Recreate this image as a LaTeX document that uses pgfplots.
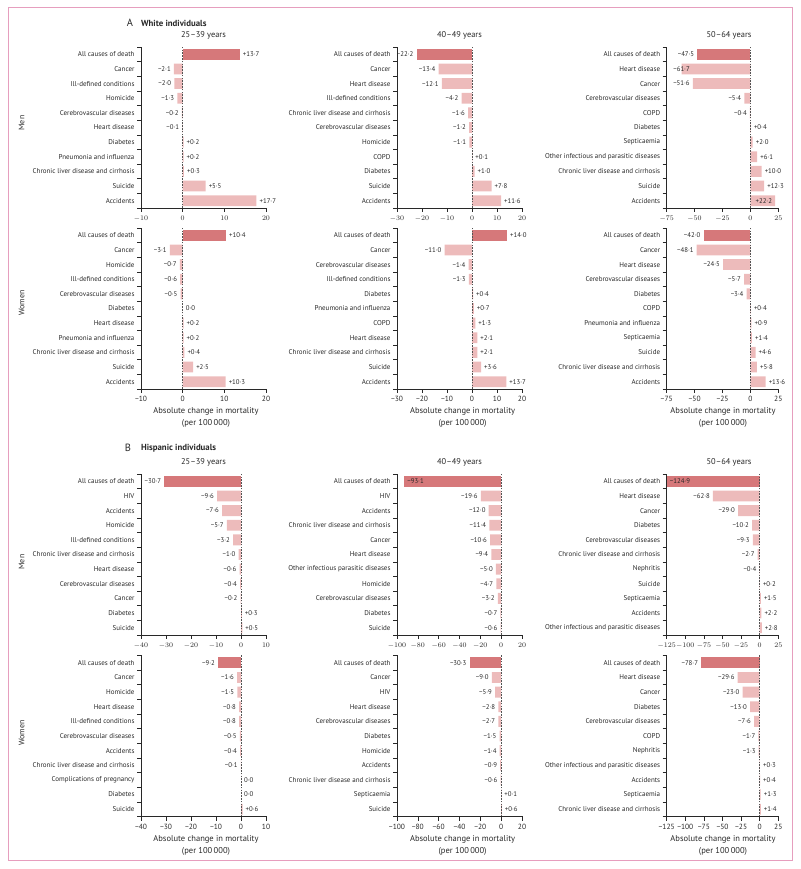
\documentclass[border=0pt]{standalone}
\usepackage{fontspec}
\setmainfont{PT Sans}
\usepackage{pgfplots}
\usepackage{pgfplotstable}
\pgfplotsset{compat=1.18}
\definecolor{dk}{RGB}{214,120,122}
\definecolor{lt}{RGB}{237,187,187}
\definecolor{frm}{RGB}{230,158,190}
\definecolor{txt}{RGB}{40,40,40}

% ---------- data (y: 10 = top row) ----------
\pgfplotstableread{
y x lab
10 13.7 +13·7
9 -2.1 −2·1
8 -2.0 −2·0
7 -1.3 −1·3
6 -0.2 −0·2
5 -0.1 −0·1
4 0.2 +0·2
3 0.2 +0·2
2 0.3 +0·3
1 5.5 +5·5
0 17.7 +17·7
}\tAMa
\pgfplotstableread{
y x lab
10 -22.2 −22·2
9 -13.4 −13·4
8 -12.1 −12·1
7 -4.2 −4·2
6 -1.6 −1·6
5 -1.2 −1·2
4 -1.1 −1·1
3 0.1 +0·1
2 1.0 +1·0
1 7.8 +7·8
0 11.6 +11·6
}\tAMb
\pgfplotstableread{
y x lab
10 -47.5 −47·5
9 -61.7 {}
8 -51.6 −51·6
7 -5.4 −5·4
6 -0.4 −0·4
5 0.4 +0·4
4 2.0 +2·0
3 6.1 +6·1
2 10.0 +10·0
1 12.3 +12·3
0 22.2 {}
}\tAMc
\pgfplotstableread{
y x lab
10 10.4 +10·4
9 -3.1 −3·1
8 -0.7 −0·7
7 -0.6 −0·6
6 -0.5 −0·5
5 0.0 0·0
4 0.2 +0·2
3 0.2 +0·2
2 0.4 +0·4
1 2.5 +2·5
0 10.3 +10·3
}\tAWa
\pgfplotstableread{
y x lab
10 14.0 +14·0
9 -11.0 −11·0
8 -1.4 −1·4
7 -1.3 −1·3
6 0.4 +0·4
5 0.7 +0·7
4 1.3 +1·3
3 2.1 +2·1
2 2.1 +2·1
1 3.6 +3·6
0 13.7 +13·7
}\tAWb
\pgfplotstableread{
y x lab
10 -42.0 −42·0
9 -48.1 −48·1
8 -24.5 −24·5
7 -5.7 −5·7
6 -3.4 −3·4
5 0.4 +0·4
4 0.9 +0·9
3 1.4 +1·4
2 4.6 +4·6
1 5.8 +5·8
0 13.6 +13·6
}\tAWc
\pgfplotstableread{
y x lab
10 -30.7 −30·7
9 -9.6 −9·6
8 -7.6 −7·6
7 -5.7 −5·7
6 -3.2 −3·2
5 -1.0 −1·0
4 -0.6 −0·6
3 -0.4 −0·4
2 -0.2 −0·2
1 0.3 +0·3
0 0.5 +0·5
}\tBMa
\pgfplotstableread{
y x lab
10 -93.1 {}
9 -19.6 −19·6
8 -12.0 −12·0
7 -11.4 −11·4
6 -10.6 −10·6
5 -9.4 −9·4
4 -5.0 −5·0
3 -4.7 −4·7
2 -3.2 −3·2
1 -0.7 −0·7
0 -0.6 −0·6
}\tBMb
\pgfplotstableread{
y x lab
10 -124.9 {}
9 -62.8 −62·8
8 -29.0 −29·0
7 -10.2 −10·2
6 -9.3 −9·3
5 -2.7 −2·7
4 -0.4 −0·4
3 0.2 +0·2
2 1.5 +1·5
1 2.2 +2·2
0 2.8 +2·8
}\tBMc
\pgfplotstableread{
y x lab
10 -9.2 −9·2
9 -1.6 −1·6
8 -1.5 −1·5
7 -0.8 −0·8
6 -0.8 −0·8
5 -0.5 −0·5
4 -0.4 −0·4
3 -0.1 −0·1
2 0.0 0·0
1 0.0 0·0
0 0.6 +0·6
}\tBWa
\pgfplotstableread{
y x lab
10 -30.3 −30·3
9 -9.0 −9·0
8 -5.9 −5·9
7 -2.8 −2·8
6 -2.7 −2·7
5 -1.5 −1·5
4 -1.4 −1·4
3 -0.9 −0·9
2 -0.6 −0·6
1 0.1 +0·1
0 0.6 +0·6
}\tBWb
\pgfplotstableread{
y x lab
10 -78.7 −78·7
9 -29.6 −29·6
8 -23.0 −23·0
7 -13.0 −13·0
6 -7.6 −7·6
5 -1.7 −1·7
4 -1.3 −1·3
3 0.3 +0·3
2 0.4 +0·4
1 1.3 +1·3
0 1.4 +1·4
}\tBWc

\pgfplotsset{
  panel/.style={
    scale only axis, height=161pt, anchor=south west,
    ymin=-0.5, ymax=10.5,
    axis x line*=bottom, axis y line*=left,
    axis line style={line width=0.6pt, draw=txt},
    tick align=outside, major tick length=4pt,
    tick style={line width=0.6pt, draw=txt},
    ytick={-0.5,0.5,...,10.5}, yticklabels={},
    extra y ticks={10,9,...,0},
    extra y tick style={major tick length=0pt, tick style={draw=none}},
    yticklabel style={font=\fontsize{7}{8}\selectfont, text=txt, xshift=-3pt},
    xticklabel style={font=\fontsize{7.5}{8}\selectfont, text=txt},
    clip=false,
  },
  barbase/.style={xbar, bar width=0.74, bar shift=0pt, draw=none},
  ltbar/.style={barbase, fill=lt, restrict y to domain=-0.5:9.5},
  dkbar/.style={barbase, fill=dk, restrict y to domain=9.5:10.5},
  lbl/.style={draw=none, mark=none, point meta=explicit symbolic,
    nodes near coords,
    every node near coord/.append style={font=\fontsize{6.8}{7}\selectfont,
      inner xsep=3pt, inner ysep=0pt, text=txt, anchor=#1}},
}
\newcommand\panel[7]{%
  \begin{axis}[panel, at={(#1,#2)}, width=#3, #5, extra y tick labels={#6}]
    \addplot[ltbar] table[x=x,y=y]{#4};
    \addplot[dkbar] table[x=x,y=y]{#4};
    \addplot[lbl=east, restrict x to domain=-1000:-0.01] table[x=x,y=y,meta=lab]{#4};
    \addplot[lbl=west, restrict x to domain=0:1000] table[x=x,y=y,meta=lab]{#4};
    #7
    \draw[dash pattern=on 1.6pt off 1.2pt, line width=0.5pt, txt!80]
      (axis cs:0,-0.5) -- (axis cs:0,10.5);
  \end{axis}}

\begin{document}
\begin{tikzpicture}
\useasboundingbox (0,0) rectangle (800pt,869pt);
\draw[frm, line width=1pt] (8pt,8pt) rectangle (792pt,861pt);

% ---------------- A: White individuals ----------------
\node[font=\fontsize{10.5}{12}\selectfont, text=txt] at (130pt,846pt) {A};
\node[font=\bfseries\fontsize{8.8}{10}\selectfont, text=txt, anchor=west] at (137.5pt,846pt) {White individuals};
\node[font=\fontsize{8.4}{10}\selectfont, text=txt] at (203.5pt,834pt) {25–39 years};
\node[font=\fontsize{8.4}{10}\selectfont, text=txt] at (459.5pt,834pt) {40–49 years};
\node[font=\fontsize{8.4}{10}\selectfont, text=txt] at (729pt,834pt) {50–64 years};
\node[font=\fontsize{8}{10}\selectfont, text=txt, rotate=90] at (21.7pt,746pt) {Men};
\node[font=\fontsize{8}{10}\selectfont, text=txt, rotate=90] at (21.7pt,566pt) {Women};

\panel{141pt}{661pt}{125pt}{\tAMa}{xmin=-10,xmax=20,xtick={-10,0,10,20},xticklabel={}}
 {All causes of death,Cancer,Ill-defined conditions,Homicide,Cerebrovascular diseases,Heart disease,Diabetes,Pneumonia and influenza,Chronic liver disease and cirrhosis,Suicide,Accidents}{}
\panel{397pt}{661pt}{125pt}{\tAMb}{xmin=-30,xmax=20,xtick={-30,-20,...,20},xticklabel={}}
 {All causes of death,Cancer,Heart disease,Ill-defined conditions,Chronic liver disease and cirrhosis,Cerebrovascular diseases,Homicide,COPD,Diabetes,Suicide,Accidents}{}
\panel{666.7pt}{661pt}{111.6pt}{\tAMc}{xmin=-75,xmax=25,xtick={-75,-50,...,25},xticklabel={}}
 {All causes of death,Heart disease,Cancer,Cerebrovascular diseases,COPD,Diabetes,Septicaemia,Other infectious and parasitic diseases,Chronic liver disease and cirrhosis,Suicide,Accidents}
 {\addplot[lbl=center] coordinates {(-61.7,9) [−61·7]};
  \addplot[lbl=east] coordinates {(22.2,0) [+22·2]};}

\panel{141pt}{480pt}{125pt}{\tAWa}{xmin=-10,xmax=20,xtick={-10,0,10,20},xticklabels={−10,0,10,20}}
 {All causes of death,Cancer,Homicide,Ill-defined conditions,Cerebrovascular diseases,Diabetes,Heart disease,Pneumonia and influenza,Chronic liver disease and cirrhosis,Suicide,Accidents}{}
\panel{397pt}{480pt}{125pt}{\tAWb}{xmin=-30,xmax=20,xtick={-30,-20,...,20},xticklabels={−30,−20,−10,0,10,20}}
 {All causes of death,Cancer,Cerebrovascular diseases,Ill-defined conditions,Diabetes,Pneumonia and influenza,COPD,Heart disease,Chronic liver disease and cirrhosis,Suicide,Accidents}{}
\panel{666.7pt}{480pt}{111.6pt}{\tAWc}{xmin=-75,xmax=25,xtick={-75,-50,...,25},xticklabels={−75,−50,−25,0,25}}
 {All causes of death,Cancer,Heart disease,Cerebrovascular diseases,Diabetes,COPD,Pneumonia and influenza,Septicaemia,Suicide,Chronic liver disease and cirrhosis,Accidents}{}

\foreach \cx in {206,462.6,723}{
  \node[font=\fontsize{8.5}{12}\selectfont, text=txt, align=center] at (\cx pt,451.5pt) {Absolute change in mortality\\(per 100\,000)};
}

% ---------------- B: Hispanic individuals ----------------
\node[font=\fontsize{10.5}{12}\selectfont, text=txt] at (128pt,421pt) {B};
\node[font=\bfseries\fontsize{8.8}{10}\selectfont, text=txt, anchor=west] at (137.5pt,421pt) {Hispanic individuals};
\node[font=\fontsize{8.4}{10}\selectfont, text=txt] at (203.5pt,407pt) {25–39 years};
\node[font=\fontsize{8.4}{10}\selectfont, text=txt] at (459.5pt,407pt) {40–49 years};
\node[font=\fontsize{8.4}{10}\selectfont, text=txt] at (729pt,407pt) {50–64 years};
\node[font=\fontsize{8}{10}\selectfont, text=txt, rotate=90] at (21.7pt,307pt) {Men};
\node[font=\fontsize{8}{10}\selectfont, text=txt, rotate=90] at (21.7pt,136pt) {Women};

\panel{141pt}{234pt}{125pt}{\tBMa}{xmin=-40,xmax=10,xtick={-40,-30,...,10},xticklabel={}}
 {All causes of death,HIV,Accidents,Homicide,Ill-defined conditions,Chronic liver disease and cirrhosis,Heart disease,Cerebrovascular diseases,Cancer,Diabetes,Suicide}{}
\panel{397pt}{234pt}{125pt}{\tBMb}{xmin=-100,xmax=20,xtick={-100,-80,...,20},xticklabel={}}
 {All causes of death,HIV,Accidents,Chronic liver disease and cirrhosis,Cancer,Heart disease,Other infectious parasitic diseases,Homicide,Cerebrovascular diseases,Diabetes,Suicide}
 {\addplot[lbl=west] coordinates {(-93.1,10) [−93·1]};}
\panel{666.7pt}{234pt}{111.6pt}{\tBMc}{xmin=-125,xmax=25,xtick={-125,-100,...,25},xticklabel={}}
 {All causes of death,Heart disease,Cancer,Diabetes,Cerebrovascular diseases,Chronic liver disease and cirrhosis,Nephritis,Suicide,Septicaemia,Accidents,Other infectious and parasitic diseases}
 {\addplot[lbl=west] coordinates {(-124.9,10) [−124·9]};}

\panel{141pt}{52.5pt}{125pt}{\tBWa}{xmin=-40,xmax=10,xtick={-40,-30,...,10},xticklabels={−40,−30,−20,−10,0,10}}
 {All causes of death,Cancer,Homicide,Heart disease,Ill-defined conditions,Cerebrovascular diseases,Accidents,Chronic liver disease and cirrhosis,Complications of pregnancy,Diabetes,Suicide}{}
\panel{397pt}{52.5pt}{125pt}{\tBWb}{xmin=-100,xmax=20,xtick={-100,-80,...,20},xticklabels={−100,−80,−60,−40,−20,0,20}}
 {All causes of death,Cancer,HIV,Heart disease,Cerebrovascular diseases,Diabetes,Homicide,Accidents,Chronic liver disease and cirrhosis,Septicaemia,Suicide}{}
\panel{666.7pt}{52.5pt}{111.6pt}{\tBWc}{xmin=-125,xmax=25,xtick={-125,-100,...,25},xticklabels={−125,−100,−75,−50,−25,0,25}}
 {All causes of death,Heart disease,Cancer,Diabetes,Cerebrovascular diseases,COPD,Nephritis,Other infectious and parasitic diseases,Accidents,Septicaemia,Chronic liver disease and cirrhosis}{}

\foreach \cx in {206,462.6,723}{
  \node[font=\fontsize{8.5}{12}\selectfont, text=txt, align=center] at (\cx pt,24pt) {Absolute change in mortality\\(per 100\,000)};
}
\end{tikzpicture}
\end{document}
